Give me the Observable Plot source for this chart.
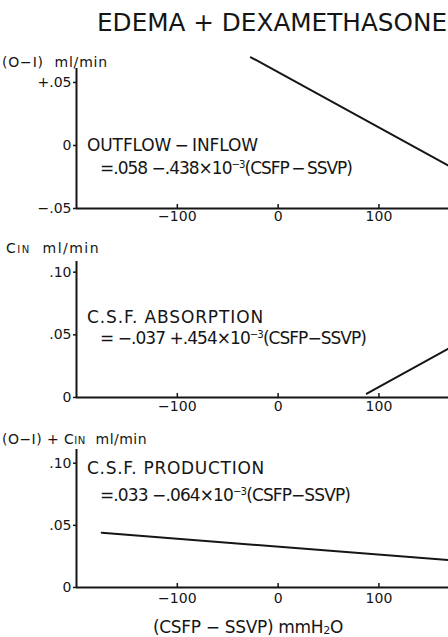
<!DOCTYPE html>
<html><head><meta charset="utf-8">
<script src="https://cdn.jsdelivr.net/npm/d3@7"></script>
<script src="https://cdn.jsdelivr.net/npm/@observablehq/plot@0.6"></script>
<style>
body{margin:0;background:#fff;overflow:hidden}
#c{position:relative;width:448px;height:637px;font-family:"DejaVu Sans",sans-serif;color:#151515;overflow:hidden}
.t{position:absolute;white-space:nowrap;line-height:1}
#c svg{position:absolute;left:0}
.sm{font-size:0.72em}
sup{font-size:0.6em;vertical-align:0.6em;line-height:0}
sub{font-size:0.65em;vertical-align:-0.1em;line-height:0}
</style></head><body><div id="c"></div>
<script>
// shared x axis
const xDomain = [-200, 169];
const xTicks = [-100, 0, 100];

// panel 1: outflow - inflow
const outflowX = [-27, 169];
const outflowY = [0.070, -0.016];
const p1Ticks = [-0.05, 0, 0.05];
const p1Labels = ["\u2212.05", "0", "+.05"];

// panel 2: C.S.F. absorption
const absorbX = [88, 169];
const absorbY = [0.003, 0.039];
const p2Ticks = [0, 0.05, 0.10];
const p2Labels = ["0", ".05", ".10"];

// panel 3: C.S.F. production
const prodX = [-175, 169];
const prodY = [0.044, 0.022];
const p3Ticks = [0, 0.05, 0.10];
const p3Labels = ["0", ".05", ".10"];

const FONT = '"DejaVu Sans", sans-serif';
const INK = "#151515";
const c = document.getElementById("c");

function panel({top, yDomain, yTicks, yLabels, xs, ys, height, marginBottom, xPad}) {
  const data = xs.map((x, i) => ({x, y: ys[i]}));
  const svg = Plot.plot({
    width: 448, height,
    marginLeft: 76, marginRight: 0, marginTop: 21, marginBottom,
    x: {domain: xDomain},
    y: {domain: yDomain},
    style: {fontFamily: FONT, fontSize: "14px", color: INK, background: "transparent", overflow: "visible"},
    marks: [
      Plot.ruleX([xDomain[0]], {y1: yDomain[0], y2: yDomain[1], stroke: INK, strokeWidth: 2}),
      Plot.ruleY([yDomain[0]], {stroke: INK, strokeWidth: 2}),
      Plot.ruleX(xTicks, {y1: yDomain[0], y2: yDomain[0], insetTop: -4, stroke: INK, strokeWidth: 1.5}),
      Plot.axisX({ticks: xTicks, tickSize: 0, tickPadding: xPad, label: null, fontSize: 14}),
      Plot.axisY({ticks: yTicks, tickFormat: (d, i) => yLabels[i], tickSize: 3, tickPadding: 2, label: null, fontSize: 14, strokeWidth: 1.5}),
      Plot.line(data, {x: "x", y: "y", stroke: INK, strokeWidth: 2})
    ]
  });
  svg.style.top = top + "px";
  c.appendChild(svg);
}

panel({top: 47, yDomain: [-0.05, 0.0611], yTicks: p1Ticks, yLabels: p1Labels, xs: outflowX, ys: outflowY, height: 183, marginBottom: 22, xPad: 3});
panel({top: 240, yDomain: [0, 0.1085], yTicks: p2Ticks, yLabels: p2Labels, xs: absorbX, ys: absorbY, height: 179, marginBottom: 22, xPad: 4});
panel({top: 428, yDomain: [0, 0.111], yTicks: p3Ticks, yLabels: p3Labels, xs: prodX, ys: prodY, height: 183, marginBottom: 24, xPad: 6});

const texts = [
  {html: "EDEMA + DEXAMETHASONE", x: 97, y: 22, size: 25, w: 350, scale: true},
  {html: "(O\u2212I)&nbsp; ml/min", x: 2, y: 62, size: 14, w: 106},
  {html: "C<span class='sm'>IN</span>&nbsp; ml/min", x: 6, y: 248, size: 14, w: 94},
  {html: "(O\u2212I) + C<span class='sm'>IN</span>&nbsp; ml/min", x: 2, y: 439, size: 14, w: 145},
  {html: "OUTFLOW\u2009\u2212\u2009INFLOW", x: 87, y: 145, size: 17, w: 171},
  {html: "=.058 \u2212.438\u00d710<sup>\u22123</sup>(CSFP\u2009\u2212\u2009SSVP)", x: 100, y: 168, size: 17, w: 252},
  {html: "C.S.F. ABSORPTION", x: 87, y: 317, size: 17, w: 177},
  {html: "= \u2212.037 +.454\u00d710<sup>\u22123</sup>(CSFP\u2212SSVP)", x: 100, y: 338, size: 17, w: 266},
  {html: "C.S.F. PRODUCTION", x: 87, y: 468, size: 17, w: 178},
  {html: "=.033 \u2212.064\u00d710<sup>\u22123</sup>(CSFP\u2212SSVP)", x: 100, y: 495, size: 17, w: 250},
  {html: "(CSFP \u2212 SSVP) mmH<sub>2</sub>O", x: 153, y: 627, size: 17, w: 190}
];
for (const t of texts) {
  const d = document.createElement("div");
  d.className = "t";
  d.innerHTML = t.html;
  d.style.left = t.x + "px";
  d.style.top = (t.y - t.size / 2) + "px";
  d.style.fontSize = t.size + "px";
  c.appendChild(d);
  const w0 = d.getBoundingClientRect().width;
  if (t.scale) {
    d.style.transformOrigin = "0 50%";
    d.style.transform = `scaleX(${t.w / w0})`;
  } else {
    const n = d.textContent.length;
    d.style.letterSpacing = ((t.w - w0) / n) + "px";
  }
}
</script>
</body></html>
